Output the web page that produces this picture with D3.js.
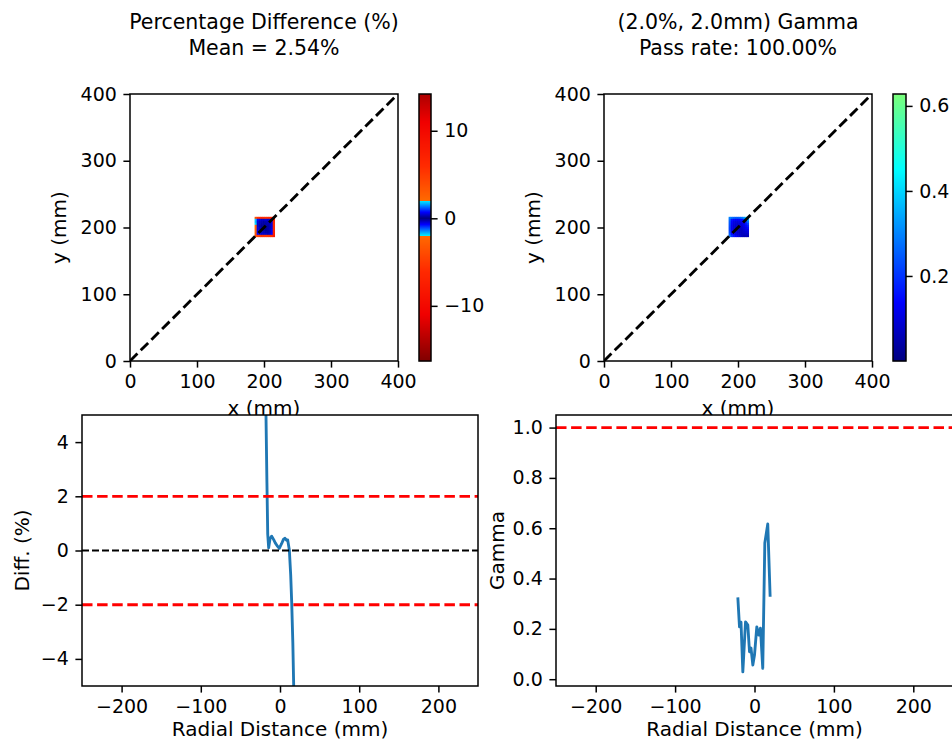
<!DOCTYPE html>
<html>
<head>
<meta charset="utf-8">
<title>Gamma comparison</title>
<script src="https://d3js.org/d3.v7.min.js"></script>
<style>
body{margin:0;background:#fff;}
svg text{font-family:"DejaVu Sans",sans-serif;fill:#000;}
</style>
</head>
<body>
<svg id="fig" width="952" height="744"></svg>
<script>
// ---- data ----
var mapTicks = [0, 100, 200, 300, 400];
var diffBarTicks = [-10, 0, 10];
var gammaBarTicks = [0.2, 0.4, 0.6];
var radialTicks = [-200, -100, 0, 100, 200];
var diffTicks = [-4, -2, 0, 2, 4];
var gammaTicks = [0.0, 0.2, 0.4, 0.6, 0.8, 1.0];
var diffLimits = [2, -2];
var gammaLimit = [1.0];

// map cells (mm, lower-left corner), rows listed from top to bottom
var gridX = [186, 189, 192, 195, 198, 201, 204, 207, 210, 213];
var gridY = [213, 210, 207, 204, 201, 198, 195, 192, 189, 186];
var diffGrid = [
  [ 3.6,  5.5,  6.1,  6.4,  6.0,  5.6,  5.9,  6.3,  6.8,  7.5],
  [ 1.8,  0.7,  0.5,  0.4,  0.4,  0.5,  0.4,  0.5,  0.7,  6.9],
  [ 1.7,  0.5,  0.3,  0.3,  0.2,  0.3,  0.3,  0.4,  0.6,  6.6],
  [ 1.9,  0.4,  0.3,  0.2,  0.2,  0.2,  0.3,  0.3,  0.5,  6.4],
  [-2.2,  0.4,  0.2,  0.1,  0.1,  0.2,  0.2,  0.3,  0.5,  6.2],
  [-2.4,  0.5,  0.3,  0.2,  0.1,  0.1,  0.2,  0.3,  0.5, -6.3],
  [-2.6,  0.5,  0.3,  0.2,  0.2,  0.1,  0.2,  0.3,  0.6, -6.5],
  [-2.9,  0.6,  0.4,  0.3,  0.3,  0.2,  0.2,  0.3,  0.6, -6.8],
  [-3.2,  0.7,  0.5,  0.4,  0.4,  0.4,  0.3,  0.4,  0.7, -7.2],
  [-4.5, -4.8, -5.2, -5.5, -5.4, -5.1, -5.3, -5.6, -6.0, -7.8]
];
var gammaGrid = [
  [0.30, 0.28, 0.26, 0.25, 0.25, 0.26, 0.28, 0.32, 0.38, 0.42],
  [0.27, 0.16, 0.14, 0.13, 0.13, 0.14, 0.15, 0.17, 0.22, 0.34],
  [0.25, 0.14, 0.11, 0.10, 0.10, 0.11, 0.12, 0.14, 0.18, 0.28],
  [0.24, 0.13, 0.10, 0.09, 0.08, 0.09, 0.10, 0.12, 0.16, 0.22],
  [0.23, 0.12, 0.09, 0.08, 0.07, 0.08, 0.09, 0.11, 0.14, 0.18],
  [0.22, 0.12, 0.09, 0.07, 0.07, 0.07, 0.08, 0.10, 0.12, 0.15],
  [0.22, 0.12, 0.09, 0.08, 0.07, 0.07, 0.07, 0.09, 0.11, 0.12],
  [0.23, 0.13, 0.10, 0.09, 0.08, 0.07, 0.07, 0.08, 0.09, 0.10],
  [0.25, 0.15, 0.12, 0.10, 0.09, 0.08, 0.07, 0.07, 0.08, 0.08],
  [0.28, 0.20, 0.16, 0.13, 0.11, 0.09, 0.07, 0.06, 0.06, 0.06]
];

// radial profiles
var diffR = [-22, -20, -17.7, -16.5, -15.5, -14.3, -12.5, -10.5, -8, -6, -3, -0.9, 2, 4.5, 6.3, 8.2, 9.7, 11.8, 13.5, 14.8, 16.2, 17.3, 19, 21];
var diffV = [14, 9.5, 5, 2.5, 0.6, 0.1, 0.45, 0.53, 0.4, 0.28, 0.15, 0.08, 0.25, 0.42, 0.45, 0.38, 0.39, 0.02, -0.9, -1.94, -3.4, -5, -9, -15];
var gammaR = [-21.0, -18.9, -17.0, -14.7, -11.3, -8.4, -6.3, -4.4, -2.1, 0, 2.9, 5.4, 7.5, 10.4, 13.0, 16.7, 19.7];
var gammaV = [0.325, 0.208, 0.227, 0.029, 0.228, 0.215, 0.109, 0.124, 0.056, 0.096, 0.208, 0.175, 0.203, 0.043, 0.541, 0.617, 0.328];

// ---- styles ----
var FS = 19, LFS = 20, TFS = 20.5;
var TICK = 6.6, PAD = 6.6, SPINE = 1.5, LW = 2.85;
var BLUE = "#1f77b4";

// colour maps (jet-like)
var diffLow = d3.scaleLinear().domain([0, 0.7, 2]).range(["#000080", "#0000ff", "#00f0ff"]).clamp(true);
var diffHigh = d3.scaleLinear().domain([2, 6, 11, 16.3]).range(["#ff6a00", "#ff2a00", "#f00000", "#800000"]).clamp(true);
function diffColor(v){ var a = Math.abs(v); return a <= 2 ? diffLow(a) : diffHigh(a); }
var gammaColor = d3.scaleLinear()
  .domain([0, 0.138, 0.45, 0.628])
  .range(["#000080", "#0000ff", "#00ffff", "#7aff7a"]).clamp(true);

var svg = d3.select("#fig");
var uid = 0;

function axesBox(b){
  svg.append("rect").attr("x", b.x).attr("y", b.y).attr("width", b.w).attr("height", b.h).attr("fill", "#fff");
  var id = "clip" + (uid++);
  svg.append("clipPath").attr("id", id).append("rect")
    .attr("x", b.x).attr("y", b.y).attr("width", b.w).attr("height", b.h);
  return svg.append("g").attr("clip-path", "url(#" + id + ")");
}
function spines(b){
  svg.append("rect").attr("x", b.x).attr("y", b.y).attr("width", b.w).attr("height", b.h)
    .attr("fill", "none").attr("stroke", "#000").attr("stroke-width", SPINE);
}
function styleAxis(g){
  g.select(".domain").remove();
  g.selectAll("line").attr("stroke", "#000").attr("stroke-width", SPINE);
  g.selectAll("text").attr("font-size", FS).attr("font-family", "DejaVu Sans").attr("fill", "#000");
}
function xAxis(b, scale, ticks, fmt){
  svg.append("g").attr("transform", "translate(0," + (b.y + b.h) + ")")
    .call(d3.axisBottom(scale).tickValues(ticks).tickFormat(fmt).tickSize(TICK).tickPadding(PAD).tickSizeOuter(0))
    .call(styleAxis);
}
function yAxis(b, scale, ticks, fmt){
  svg.append("g").attr("transform", "translate(" + b.x + ",0)")
    .call(d3.axisLeft(scale).tickValues(ticks).tickFormat(fmt).tickSize(TICK).tickPadding(PAD).tickSizeOuter(0))
    .call(styleAxis);
}
function label(txt, x, y, rot){
  var t = svg.append("text").attr("font-size", LFS).attr("text-anchor", "middle").text(txt);
  if (rot) t.attr("transform", "translate(" + x + "," + y + ") rotate(-90)");
  else t.attr("x", x).attr("y", y);
}
function title(lines, cx){
  lines.forEach(function(s, i){
    svg.append("text").attr("x", cx).attr("y", 29 + i * 26).attr("font-size", TFS)
      .attr("text-anchor", "middle").text(s);
  });
}

// map panel with colorbar
function mapPanel(b, grid, color, bar, barDomain, barTicks, barFmt, titleLines, ylabX){
  var x = d3.scaleLinear().domain([0, 400]).range([b.x, b.x + b.w]);
  var y = d3.scaleLinear().domain([0, 400]).range([b.y + b.h, b.y]);
  var g = axesBox(b);
  grid.forEach(function(row, i){
    row.forEach(function(v, j){
      g.append("rect")
        .attr("x", x(gridX[j])).attr("y", y(gridY[i] + 3))
        .attr("width", x(gridX[j] + 3) - x(gridX[j]) + 0.3)
        .attr("height", y(gridY[i]) - y(gridY[i] + 3) + 0.3)
        .attr("fill", color(v));
    });
  });
  g.append("line")
    .attr("x1", x(0)).attr("y1", y(0)).attr("x2", x(400)).attr("y2", y(400))
    .attr("stroke", "#000").attr("stroke-width", LW).attr("stroke-dasharray", "10.5,4.6");
  spines(b);
  xAxis(b, x, mapTicks, d3.format("d"));
  yAxis(b, y, mapTicks, d3.format("d"));
  title(titleLines, b.x + b.w / 2);
  label("y (mm)", ylabX, b.y + b.h / 2, true);

  // colorbar
  var cy = d3.scaleLinear().domain(barDomain).range([b.y + b.h, b.y]);
  var steps = d3.range(b.y, b.y + b.h, 1);
  svg.append("g").selectAll("rect").data(steps).join("rect")
    .attr("x", bar.x).attr("y", function(d){ return d; })
    .attr("width", bar.w).attr("height", 1.2)
    .attr("fill", function(d){ return color(cy.invert(d + 0.5)); });
  svg.append("rect").attr("x", bar.x).attr("y", b.y).attr("width", bar.w).attr("height", b.h)
    .attr("fill", "none").attr("stroke", "#000").attr("stroke-width", SPINE);
  svg.append("g").attr("transform", "translate(" + (bar.x + bar.w) + ",0)")
    .call(d3.axisRight(cy).tickValues(barTicks).tickFormat(barFmt).tickSize(TICK).tickPadding(PAD).tickSizeOuter(0))
    .call(styleAxis);
  return x;
}

var tl = {x: 130, y: 94, w: 268, h: 267};
var tr = {x: 604, y: 94, w: 268, h: 267};
mapPanel(tl, diffGrid, diffColor, {x: 419, w: 12}, [-16.3, 14.2], diffBarTicks, d3.format("d"),
  ["Percentage Difference (%)", "Mean = 2.54%"], 66);
mapPanel(tr, gammaGrid, gammaColor, {x: 893, w: 13}, [0, 0.628], gammaBarTicks, d3.format(".1f"),
  ["(2.0%, 2.0mm) Gamma", "Pass rate: 100.00%"], 540);
label("x (mm)", tl.x + tl.w / 2, 415);
label("x (mm)", tr.x + tr.w / 2, 415);

// profile panels
function profilePanel(b, rs, vs, yDomain, yTicks, yFmt, hlines, zeroLine, ylab, ylabX){
  var x = d3.scaleLinear().domain([-250, 250]).range([b.x, b.x + b.w]);
  var y = d3.scaleLinear().domain(yDomain).range([b.y + b.h, b.y]);
  var g = axesBox(b);
  var pts = rs.map(function(r, i){ return [r, vs[i]]; });
  g.append("path").datum(pts)
    .attr("d", d3.line().x(function(d){ return x(d[0]); }).y(function(d){ return y(d[1]); }))
    .attr("fill", "none").attr("stroke", BLUE).attr("stroke-width", LW).attr("stroke-linejoin", "round");
  hlines.forEach(function(v){
    g.append("line").attr("x1", b.x).attr("x2", b.x + b.w).attr("y1", y(v)).attr("y2", y(v))
      .attr("stroke", "#ff0000").attr("stroke-width", LW).attr("stroke-dasharray", "10.5,4.6");
  });
  if (zeroLine) {
    g.append("line").attr("x1", b.x).attr("x2", b.x + b.w).attr("y1", y(0)).attr("y2", y(0))
      .attr("stroke", "#000").attr("stroke-width", 1.9).attr("stroke-dasharray", "7,3");
  }
  spines(b);
  xAxis(b, x, radialTicks, d3.format("d"));
  yAxis(b, y, yTicks, yFmt);
  label("Radial Distance (mm)", b.x + b.w / 2, 736);
  label(ylab, ylabX, b.y + b.h / 2, true);
}

profilePanel({x: 82, y: 415, w: 396, h: 271}, diffR, diffV, [-5, 5], diffTicks, d3.format("d"),
  diffLimits, true, "Diff. (%)", 29);
profilePanel({x: 556, y: 415, w: 397, h: 271}, gammaR, gammaV, [-0.027, 1.05], gammaTicks, d3.format(".1f"),
  gammaLimit, false, "Gamma", 504);
</script>
</body>
</html>
